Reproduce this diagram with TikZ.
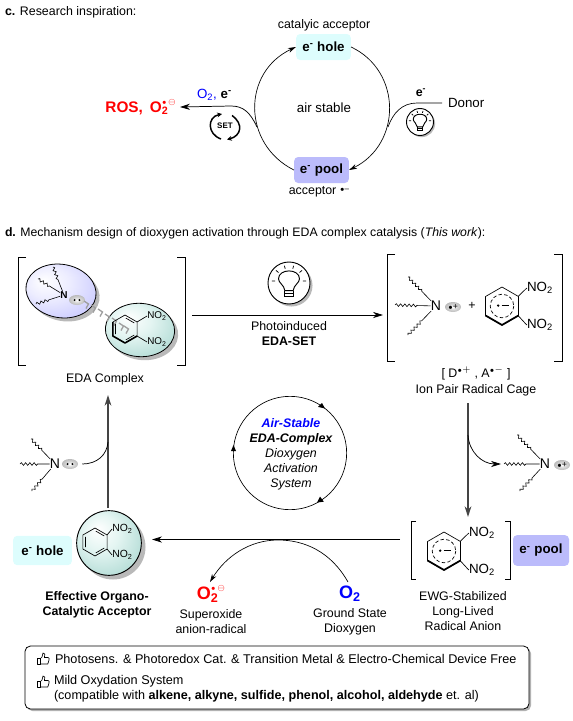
\documentclass[tikz,border=0pt]{standalone}
\usepackage{fontspec}
\setmainfont{Liberation Sans}
\usetikzlibrary{arrows.meta,shapes.geometric,decorations.pathmorphing,calc}
\definecolor{holec}{HTML}{DDFDFD}
\definecolor{poolc}{HTML}{BBBBFB}
\definecolor{darkl}{HTML}{444444}
\definecolor{ta}{HTML}{E4F5F2}\definecolor{tb}{HTML}{B9DFD9}\definecolor{tc}{HTML}{93C7C0}\definecolor{td}{HTML}{5F9C94}
\definecolor{ba}{HTML}{EDEDFF}\definecolor{bb}{HTML}{CCCCFF}\definecolor{bc}{HTML}{9C9CEE}
\pgfdeclareradialshading{tealball}{\pgfpoint{-9bp}{11bp}}{color(0bp)=(white);color(14bp)=(ta);color(30bp)=(tb);color(42bp)=(tc);color(50bp)=(td)}
\pgfdeclareradialshading{blueball}{\pgfpoint{-12bp}{8bp}}{color(0bp)=(white);color(14bp)=(ba);color(32bp)=(bb);color(50bp)=(bc)}
\pgfdeclareradialshading{ovalshade}{\pgfpoint{0bp}{0bp}}{color(0bp)=(white);color(14bp)=(gray!35);color(30bp)=(gray!60);color(50bp)=(gray!80)}
\tikzset{
  txt/.style={inner sep=0pt,outer sep=0pt,align=center,font=\fontsize{9.3}{11.25}\selectfont},
  btxt/.style={txt,font=\fontsize{9.3}{11.25}\selectfont\bfseries},
  small/.style={inner sep=0pt,font=\fontsize{7.4}{9}\selectfont},
  nitro/.style={inner sep=0pt,font=\fontsize{9.2}{11}\selectfont},
  tag/.style={rounded corners=3pt,inner sep=0pt,font=\fontsize{10}{12}\selectfont\bfseries},
  arr/.style={-{Stealth[length=7.5pt,width=4.6pt]},line width=.55pt},
  thin arr/.style={-{Stealth[length=6pt,width=3.6pt]},line width=.5pt},
  grayarr/.style={-{Stealth[length=8pt,width=5pt]},line width=1.1pt,draw=darkl},
  bond/.style={line width=.5pt},
  wav/.style={line width=.45pt,decorate,decoration={snake,amplitude=1pt,segment length=3.2pt,post length=9pt}},
  oval/.style={ellipse,shading=ovalshade,minimum width=12pt,minimum height=7.5pt,inner sep=0pt},
}
\newcommand{\rdot}{{\scriptscriptstyle\bullet}}
\newcommand{\radsup}[1]{\raisebox{.52em}{\fontsize{#1}{#1}\selectfont$\rdot$\,$\ominus$}}
\newcommand{\hexbase}[3]{% x y R
  \begin{scope}[shift={(#1,#2)},scale=#3]
    \draw[bond,line join=round] (0,-1)--(.866,-.5)--(.866,.5)--(0,1)--(-.866,.5)--(-.866,-.5)--cycle;
  \end{scope}}
\newcommand{\hexdbl}[3]{% neutral ring with inner double bonds
  \hexbase{#1}{#2}{#3}
  \begin{scope}[shift={(#1,#2)},scale=#3]
    \draw[bond] (-.68,-.36)--(-.68,.36) (.06,-.78)--(.66,-.43) (.06,.78)--(.66,.43);
  \end{scope}}
\newcommand{\hexrad}[3]{% radical anion ring
  \hexbase{#1}{#2}{#3}
  \begin{scope}[shift={(#1,#2)},scale=#3]
    \draw[line width=1.3pt,line join=round] (-.866,.5)--(0,1)--(.866,.5);
    \draw[bond,dash pattern=on 2.6pt off 1.7pt] (0,0) circle[radius=.62];
    \fill (-.2,-.02) circle[radius=.07];
    \draw[bond] (-.02,-.02)--(.38,-.02);
  \end{scope}}
\newcommand{\bulbicon}[3]{% x y r
  \begin{scope}[shift={(#1,#2)},scale=#3]
    \fill[gray!55] (.12,.12) circle[radius=1];
    \draw[fill=white,line width=.7pt] (0,0) circle[radius=1];
    \draw[line width=.7pt,fill=white] (-.2,.36) .. controls (-.22,.1) and (-.5,0) .. (-.5,-.2)
       .. controls (-.5,-.7) and (.5,-.7) .. (.5,-.2) .. controls (.5,0) and (.22,.1) .. (.2,.36) -- cycle;
    \draw[line width=.7pt] (-.2,.36)--(-.2,.66)--(.2,.66)--(.2,.36) (-.2,.5)--(.2,.5);
    \draw[line width=.55pt] (-.82,-.1)--(-.66,-.1) (.66,-.1)--(.82,-.1) (-.62,-.6)--(-.5,-.5) (.62,-.6)--(.5,-.5)
       (-.22,-.82)--(-.18,-.68) (.22,-.82)--(.18,-.68);
  \end{scope}}
\newcommand{\thumbicon}[2]{%
  \begin{scope}[shift={(#1,#2)}]
    \draw[line width=.5pt,line join=round] (-6,-1) rectangle (-3,5);
    \draw[line width=.5pt,line join=round] (-3,0) -- (-1,-2) -- (0,-6) .. controls (2,-6.5) and (2.4,-4) .. (1.4,-1.5)
      -- (5,-1.5) .. controls (6.4,-1.5) and (6.4,0) .. (6,1) -- (4.8,5) -- (-3,5);
  \end{scope}}
\newcommand{\lonepair}[2]{% named oval with two dots
  \node[oval] (#1) at #2 {};
  \fill (#1.center)+(-2.4,0) circle[radius=1.1];
  \fill (#1.center)+(2.4,0) circle[radius=1.1];}
\newcommand{\radcat}[2]{% named oval with dot and plus
  \node[oval] (#1) at #2 {};
  \node[inner sep=0pt,font=\fontsize{6.5}{7}\selectfont] at (#1.center) {$\rdot$+};}
\begin{document}
\begin{tikzpicture}[x=.75pt,y=-.75pt]
\useasboundingbox (0,0) rectangle (573,721);

% ---------- panel c
\node[txt,anchor=west] (ctitle) at (5,12) {\textbf{c.} Research inspiration:};
\node[txt] (catac) at (324,25) {catalyic acceptor};
\node[tag,fill=holec,minimum width=41pt,minimum height=19.5pt] (hole1) at (323.5,47) {e\textsuperscript{-} hole};
\node[tag,fill=poolc,minimum width=41pt,minimum height=19.5pt] (pool1) at (321.5,170) {e\textsuperscript{-} pool};
\node[txt] (acc) at (319,192) {acceptor \raisebox{.3em}{\fontsize{6}{6}\selectfont$\rdot$--}};
\node[txt,font=\fontsize{10}{12}\selectfont] (airst) at (324,108) {air stable};
\draw[thin arr] (hole1.east) .. controls (402,71) and (402,144) .. (pool1.east);
\draw[thin arr] (pool1.west) .. controls (242,144) and (242,72) .. (hole1.west);
\node[txt,anchor=west,font=\fontsize{10}{12}\selectfont] (donor) at (448,103) {Donor};
\coordinate (donorjoin) at (388,127);
\draw[line width=.5pt] (donor.west)+(-6,0) -- (417,103) .. controls (402,103) and (393,113) .. (donorjoin);
\node[btxt] (e1) at (421,93) {e\textsuperscript{-}};
\bulbicon{420}{122}{13.5}
\node[anchor=east,inner sep=0pt,text=red,font=\fontsize{11.5}{13}\selectfont\bfseries] (ros) at (176,107) {ROS,\hspace{.45em}O\rlap{\textsubscript{2}}\radsup{6}};
\coordinate (rosjoin) at (257,127);
\draw[arr] (rosjoin) .. controls (250,112) and (243,106) .. (231,106) -- ([xshift=3pt]ros.east);
\node[txt,font=\fontsize{10}{12}\selectfont\bfseries,anchor=west] (o2e) at (197,95) {\textcolor{blue}{\mdseries O\textsubscript{2},} e\textsuperscript{-}};
\node[inner sep=0pt,font=\fontsize{6}{7}\selectfont\bfseries] (set) at (225,126) {SET};
\draw[line width=1.1pt,-{Stealth[length=3.6pt,width=3.6pt]}] (221,139) .. controls (207,134) and (207,117) .. (222,114);
\draw[line width=1.1pt,-{Stealth[length=3.6pt,width=3.6pt]}] (232,115.5) .. controls (244,124) and (241,136) .. (227,139.5);

% ---------- panel d title
\node[txt,anchor=west,font=\fontsize{9.2}{11.25}\selectfont] (dtitle) at (5,233) {\textbf{d.} Mechanism design of dioxygen activation through EDA complex catalysis (\textit{This work}):};

% ---------- EDA complex
\draw[line width=.6pt] (26,257)--(18,257)--(18,365)--(26,365) (177,257)--(185,257)--(185,365)--(177,365);
\node[ellipse,fill=gray!55,minimum width=53pt,minimum height=40pt,rotate=-10,inner sep=0pt] (donorshadow) at (64.5,294.5) {};
\node[ellipse,fill=gray!55,minimum width=52pt,minimum height=40pt,rotate=-4,inner sep=0pt] (accshadow) at (143.5,333.5) {};
\node[ellipse,draw,line width=.6pt,shading=blueball,minimum width=53pt,minimum height=40pt,rotate=-10,inner sep=0pt] (donorball) at (61,291) {};
\node[ellipse,draw,line width=.6pt,shading=tealball,minimum width=52pt,minimum height=40pt,rotate=-4,inner sep=0pt] (accball) at (140,330) {};
\node[inner sep=0pt,font=\fontsize{7.5}{9}\selectfont\bfseries] (Na) at (64,295) {N};
\coordinate (wa1) at (53,267); \coordinate (wa2) at (38,279); \coordinate (wa3) at (36,304);
\draw[wav] (wa1)--(Na); \draw[wav] (wa2)--(Na); \draw[wav] (wa3)--(Na);
\lonepair{lpa}{(77,300)}
\foreach \a/\b in {87/304,94/308,101/312,108/317,115/321,122/326,127/329}{
  \draw[gray!75,line width=1pt] (\a-3,\b-3)--(\a+1.5,\b)--(\a-1,\b+4.5);
}
\hexdbl{125}{329}{14}
\begin{scope}[shift={(125,329)},scale=14]
  \draw[line width=1.2pt,line join=round] (-.866,-.5)--(-.866,.5)--(0,1)--(.866,.5);
\end{scope}
\node[small] (na1) at (157,316) {NO\textsubscript{2}};
\node[small] (na2) at (157,342) {NO\textsubscript{2}};
\draw[bond] (137,322)--(na1.west) (137,336)--(na2.west);
\node[txt] (edalabel) at (105,379) {EDA Complex};

% ---------- photo arrow
\coordinate (photostart) at (192,315);
\coordinate (photoend) at (383,315);
\draw[arr] (photostart)--(photoend);
\bulbicon{289}{283}{21}
\node[txt] (photo) at (289,334) {Photoinduced\\\textbf{EDA-SET}};

% ---------- ion pair cage
\draw[line width=.6pt] (395,254)--(387,254)--(387,361)--(395,361) (554,254)--(562,254)--(562,361)--(554,361);
\node[inner sep=0pt,font=\fontsize{10.5}{12}\selectfont] (Nb) at (436,306) {N};
\coordinate (wb1) at (408,277); \coordinate (wb2) at (395,305); \coordinate (wb3) at (408,335);
\draw[wav] (wb1)--(Nb); \draw[wav] (wb2)--(Nb); \draw[wav] (wb3)--(Nb);
\radcat{rcb}{(453,307)}
\node[txt] (plus) at (472,306) {+};
\hexrad{502}{306}{19}
\node[nitro,font=\fontsize{10}{12}\selectfont] (nb1) at (540,288) {NO\textsubscript{2}};
\node[nitro,font=\fontsize{10}{12}\selectfont] (nb2) at (540,325) {NO\textsubscript{2}};
\draw[bond] (518,296.5)--(nb1.west) (518,315.5)--(nb2.west);
\node[txt] (dapair) at (476,373) {[ D$^{\rdot+}$ , A$^{\rdot-}$ ]};
\node[txt] (cage) at (476,390) {Ion Pair Radical Cage};

% ---------- vertical downward arrow with branch
\coordinate (cagebelow) at (468,403);
\coordinate (anionabove) at (468,517);
\draw[grayarr] (cagebelow)--(anionabove);
\node[inner sep=0pt,font=\fontsize{10.5}{12}\selectfont] (Nc) at (545,464) {N};
\coordinate (wc1) at (517,435); \coordinate (wc2) at (504,464); \coordinate (wc3) at (520,491);
\draw[wav] (wc1)--(Nc); \draw[wav] (wc2)--(Nc); \draw[wav] (wc3)--(Nc);
\radcat{rcc}{(562,465)}
\coordinate (branchdown) at (468,435);
\coordinate (branchdownend) at (501,464);
\draw[arr] (branchdown) .. controls (469,452) and (482,464) .. (branchdownend);

% ---------- central cycle
\node[circle,draw,line width=.5pt,minimum size=85pt,inner sep=0pt] (cyc) at (290,453) {};
\fill ($(cyc.center)+(35,-44.5)$) -- +(-7,-1.6) -- +(-3,-5.5) -- cycle;
\fill ($(cyc.center)+(-56.5,-8)$) -- +(-2.5,6) -- +(2.5,6) -- cycle;
\fill ($(cyc.center)+(27,49.5)$) -- +(6.8,-.8) -- +(3,-6) -- cycle;
\node[txt,font=\fontsize{9.3}{11.25}\selectfont\itshape] (cyctext) at (291,454) {\textcolor{blue}{\textbf{Air-Stable}}\\\textbf{EDA-Complex}\\Dioxygen\\Activation\\System};

% ---------- radical anion
\draw[line width=.6pt] (416,521)--(411,521)--(411,579)--(416,579) (505,521)--(510,521)--(510,579)--(505,579);
\hexrad{444}{551}{19}
\node[nitro,font=\fontsize{10}{12}\selectfont] (nd1) at (482,533) {NO\textsubscript{2}};
\node[nitro,font=\fontsize{10}{12}\selectfont] (nd2) at (482,570) {NO\textsubscript{2}};
\draw[bond] (460,541.5)--(nd1.west) (460,560.5)--(nd2.west);
\node[tag,fill=poolc,minimum width=42pt,minimum height=23pt] (pool2) at (541,550.5) {e\textsuperscript{-} pool};
\node[txt] (ewg) at (463,611) {EWG-Stabilized\\Long-Lived\\Radical Anion};

% ---------- acceptor sphere
\fill[gray!55] (113,547) circle[radius=32.5];
\node[circle,draw,line width=.7pt,shading=tealball,minimum size=48.5pt,inner sep=0pt] (accsphere) at (109,543) {};
\hexdbl{95}{542}{14}
\node[small,font=\fontsize{7.8}{9}\selectfont] (ns1) at (122.5,529) {NO\textsubscript{2}};
\node[small,font=\fontsize{7.8}{9}\selectfont] (ns2) at (122.5,555) {NO\textsubscript{2}};
\draw[bond] (107,535)--(ns1.west) (107,549)--(ns2.west);
\node[tag,fill=holec,minimum width=44pt,minimum height=22pt] (hole2) at (42.5,550.5) {e\textsuperscript{-} hole};
\node[btxt] (effective) at (97,604.5) {Effective Organo-\\Catalytic Acceptor};

% ---------- upward arrow with branch
\coordinate (upfrom) at (108,508);
\coordinate (uptip) at (108,395);
\draw[grayarr] (upfrom)--(uptip);
\node[inner sep=0pt,font=\fontsize{10.5}{12}\selectfont] (Nd) at (55,464) {N};
\coordinate (wd1) at (31,439); \coordinate (wd2) at (20,464); \coordinate (wd3) at (32,491);
\draw[wav] (wd1)--(Nd); \draw[wav] (wd2)--(Nd); \draw[wav] (wd3)--(Nd);
\lonepair{lpd}{(70,464)}
\coordinate (branchup) at (108,442);
\draw[line width=.55pt] ($(lpd.east)+(4,0)$) .. controls (97,464) and (107,455) .. (branchup);

% ---------- main horizontal arrow
\coordinate (anionwest) at (400,539.5);
\coordinate (acctip) at (152,539.5);
\draw[arr] (anionwest)--(acctip);
\node[inner sep=0pt,text=blue,font=\fontsize{13.5}{15}\selectfont\bfseries] (blueo) at (350,594) {O\textsubscript{2}};
\node[inner sep=0pt,text=red,font=\fontsize{13.5}{15}\selectfont\bfseries] (redo) at (211,594) {O\rlap{\textsubscript{2}}\radsup{6.5}};
\node[txt] (superox) at (211,621.5) {Superoxide\\anion-radical};
\node[txt] (ground) at (350,621.5) {Ground State\\Dioxygen};
\coordinate (o2from) at (348,582);
\coordinate (o2to) at (210,582);
\draw[thin arr] (o2from) .. controls (331,552) and (305,540) .. (278,540) .. controls (250,540) and (226,556) .. (o2to);

% ---------- bottom box
\fill[gray!60,rounded corners=4pt] (27,648) rectangle (531,711);
\node[draw,fill=white,rounded corners=4pt,line width=.6pt,minimum width=378pt,minimum height=47.2pt] (summary) at (277,677.5) {};
\thumbicon{43}{659}
\node[txt,anchor=west,font=\fontsize{9.5}{11.25}\selectfont] (l1) at (55,659) {Photosens. \& Photoredox Cat. \& Transition Metal \& Electro-Chemical Device Free};
\thumbicon{43}{682}
\node[txt,anchor=west,font=\fontsize{9.5}{11.25}\selectfont] (l2) at (54,681) {Mild Oxydation System};
\node[txt,anchor=west,font=\fontsize{9.45}{11.25}\selectfont] (l3) at (54,696) {(compatible with \textbf{alkene, alkyne, sulfide, phenol, alcohol, aldehyde} et. al)};
\end{tikzpicture}
\end{document}
